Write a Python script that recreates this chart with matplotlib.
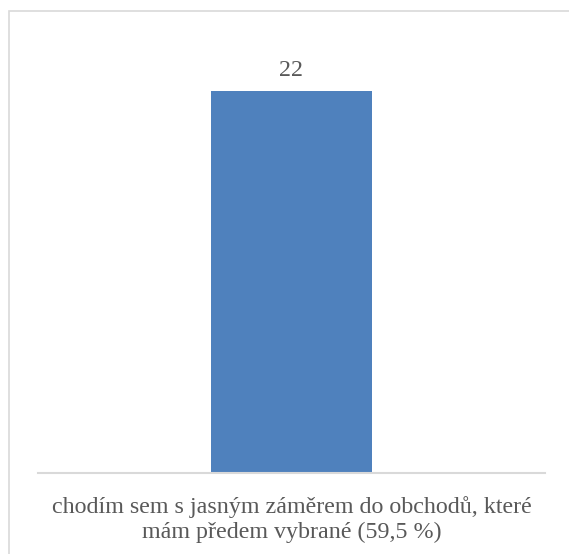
import matplotlib
matplotlib.use("Agg")
import matplotlib.pyplot as plt
from matplotlib.patches import Rectangle

categories = ["chodím sem s jasným záměrem do obchodů, které\nmám předem vybrané (59,5 %)"]
values = [22]

bar_color = "#4F81BD"
text_color = "#595959"
line_color = "#D9D9D9"

plt.rcParams["font.family"] = ["Liberation Serif", "DejaVu Serif"]

W, H = 569, 554
fig = plt.figure(figsize=(W / 100, H / 100), dpi=100)

left, right = 38 / W, 545 / W
bottom = (H - 473) / H
top = (H - 39) / H
ax = fig.add_axes([left, bottom, right - left, top - bottom])

x = list(range(len(categories)))
bars = ax.bar(x, values, width=0.316, color=bar_color, zorder=2)
ax.set_xlim(-0.5, len(categories) - 0.5)
ax.set_ylim(0, 25)

for b, v in zip(bars, values):
    ax.annotate(f"{v}", (b.get_x() + b.get_width() / 2, v),
                xytext=(0, 7), textcoords="offset points",
                ha="center", va="bottom", fontsize=17.3, color=text_color)

ax.set_xticks(x)
ax.set_xticklabels(categories, fontsize=17.3, color=text_color, linespacing=1.25)
ax.tick_params(axis="x", length=0, pad=16.5)
ax.set_yticks([])
for side in ("top", "right", "left"):
    ax.spines[side].set_visible(False)
ax.spines["bottom"].set_color(line_color)
ax.spines["bottom"].set_linewidth(1.5)

# outer frame of the chart area
frame = Rectangle((8.5 / W, -0.1), 1.2, (H - 10.5) / H + 0.1,
                  transform=fig.transFigure, fill=False,
                  edgecolor=line_color, linewidth=1.2, clip_on=False)
fig.patches.append(frame)

fig.savefig("out.png", dpi=100)
